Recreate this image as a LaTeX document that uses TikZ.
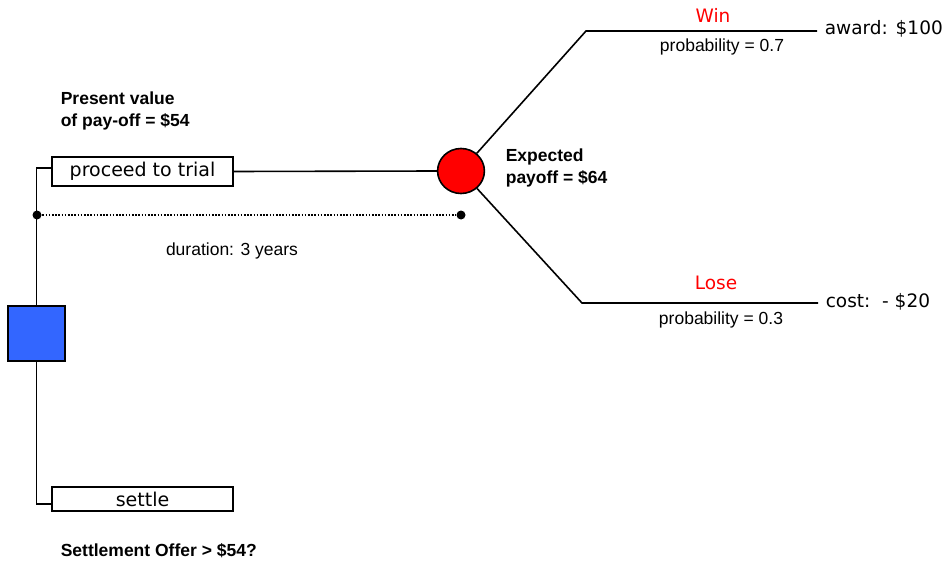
\documentclass[tikz,border=0pt]{standalone}
\usepackage{fontspec}
\setmainfont{Liberation Sans}
\newfontfamily\vfont{DejaVu Sans}
\definecolor{decblue}{HTML}{3366FF}
\definecolor{chred}{HTML}{FF0000}
\begin{document}
\begin{tikzpicture}[x=1pt,y=-1pt,
  line width=1.6pt,
  lbl/.style={font=\fontsize{17.5}{22}\selectfont, inner sep=0pt},
  blbl/.style={font=\fontsize{17.5}{22}\selectfont\bfseries, inner sep=0pt, align=left},
  vlbl/.style={font=\vfont\fontsize{18.5}{22}\selectfont, inner sep=0pt},
  optbox/.style={draw, line width=1.6pt, fill=white, inner sep=0pt, minimum width=181pt, font=\vfont\fontsize{19}{22}\selectfont},
  decbox/.style={draw, line width=1.6pt, fill=decblue, minimum width=57pt, minimum height=55pt, inner sep=0pt},
  blackdot/.style={circle, fill=black, minimum size=9pt, inner sep=0pt},
  dotline/.style={line width=2pt, dash pattern=on 1.6pt off 1.6pt}
]
\useasboundingbox (0,0) rectangle (944,564);
% nodes
\node[decbox] (dec) at (36.5,333.5) {};
\node[optbox, minimum height=29pt] (trial) at (142.5,171.5) {proceed to trial};
\node[optbox, minimum height=24pt] (settle) at (142.5,499) {settle};
\node[circle, draw, line width=1.6pt, fill=chred, minimum size=45pt, inner sep=0pt, xscale=1.04] (ch) at (461,171) {};
\node[blackdot] (d1) at (37,215) {};
\node[blackdot] (d2) at (461,215) {};
\coordinate (wc) at (586,31);
\coordinate (wend) at (817,31);
\coordinate (lc) at (582,303);
\coordinate (lend) at (818,303);
% connectors
\draw (dec.north) |- ([yshift=3.5pt]trial.west);
\draw (dec.south) |- ([yshift=-5pt]settle.west);
\draw (trial.east) -- (ch.west);
\draw[dotline] (d1) -- (d2);
\draw (ch) -- (wc) -- (wend);
\draw (ch) -- (lc) -- (lend);
% labels
\node[blbl, anchor=west] (pv) at (60,111) {Present value\\of pay-off = \$54};
\node[blbl, anchor=west] (ep) at (505,167.5) {Expected\\payoff = \$64};
\node[blbl, anchor=west] (so) at (60,551) {Settlement Offer > \$54?};
\node[lbl] (dur) at (232,251) {duration: 3 years};
\node[vlbl, text=chred] (win) at (713,15) {Win};
\node[lbl] (p7) at (722,47) {probability = 0.7};
\node[vlbl, text=chred] (lose) at (716,283) {Lose};
\node[lbl] (p3) at (721,320) {probability = 0.3};
\node[vlbl, anchor=west] (award) at (824,29) {award: \$100};
\node[vlbl, anchor=west] (cost) at (825,302) {cost:\ \ - \$20};
\end{tikzpicture}
\end{document}
